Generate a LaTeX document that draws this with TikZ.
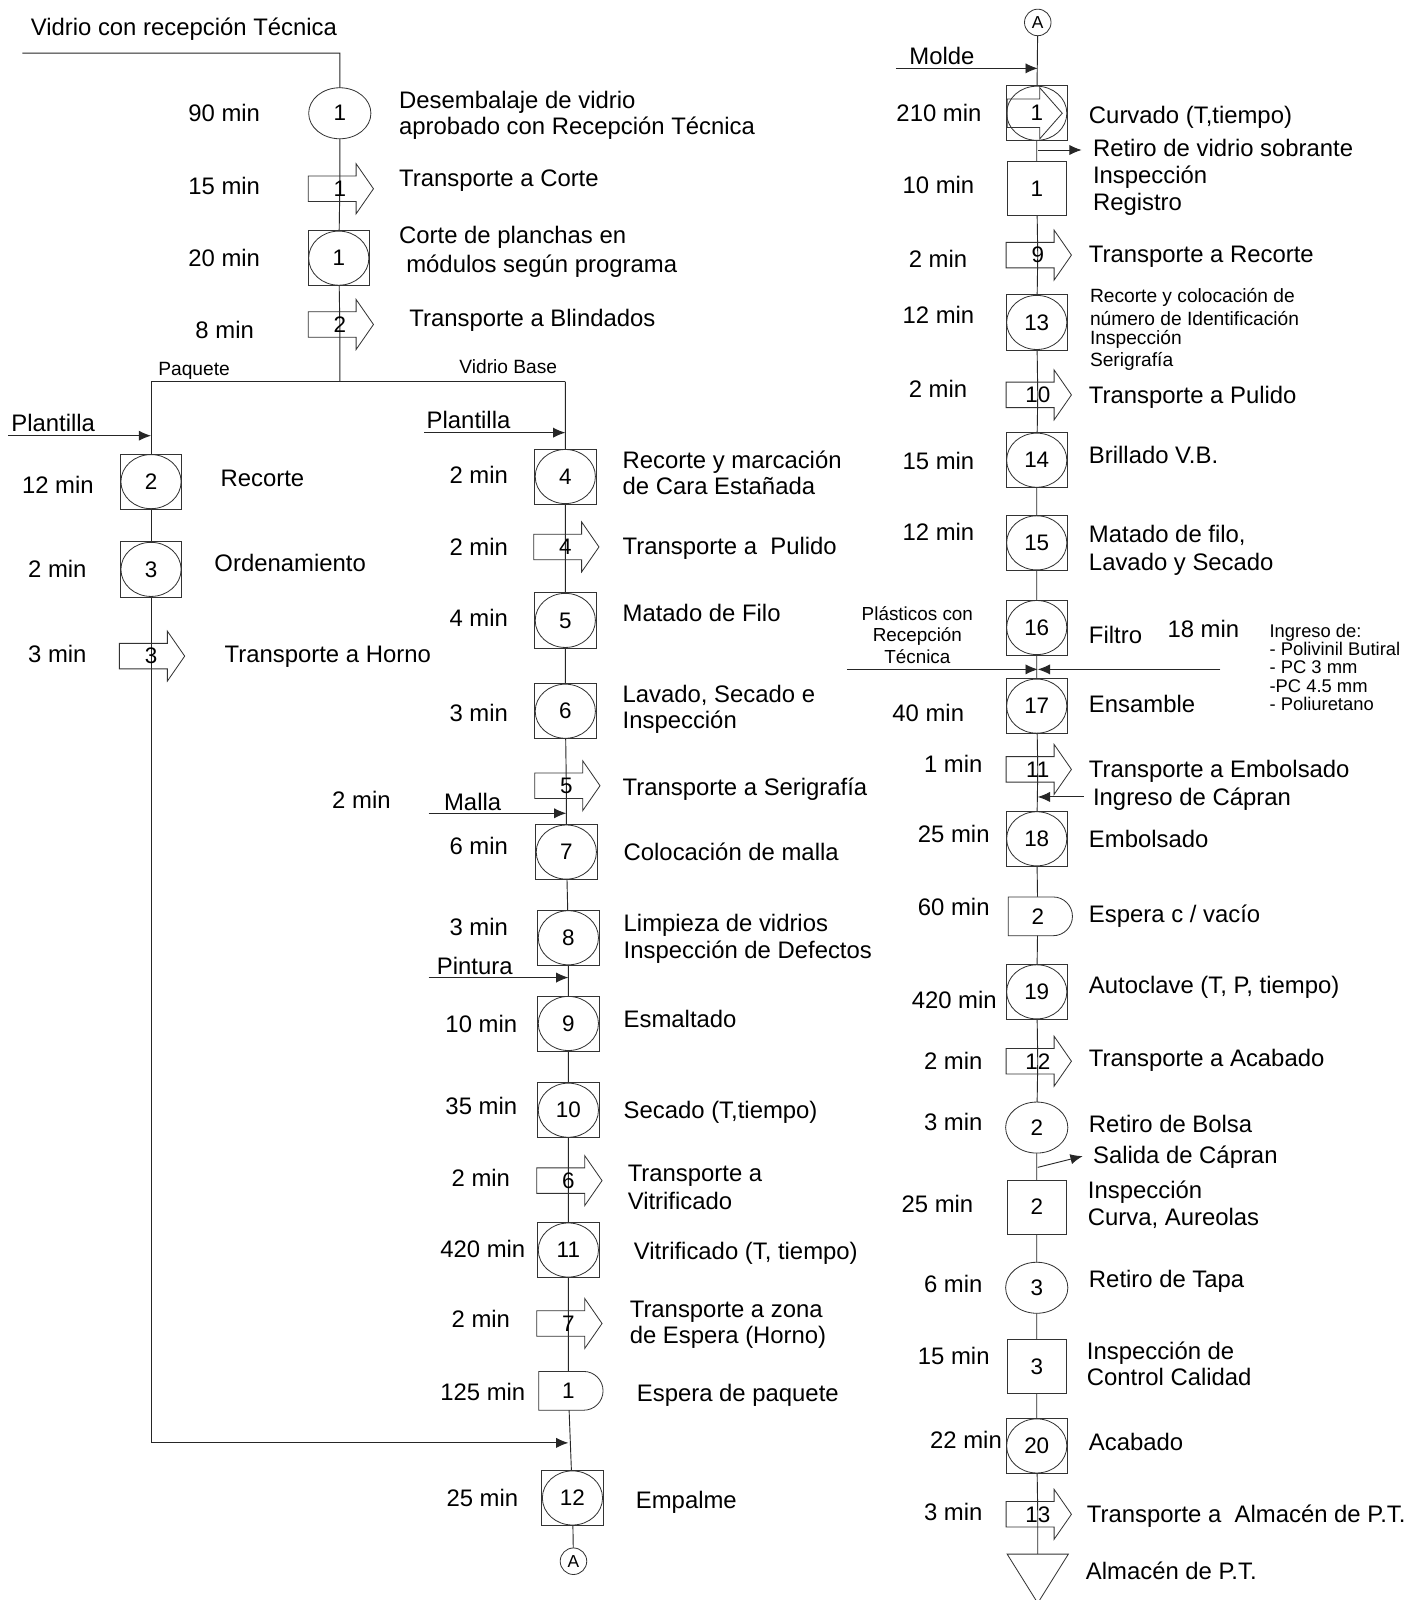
\documentclass[tikz,border=0pt]{standalone}
\usepackage{fontspec}
\setmainfont{Liberation Sans}
\usetikzlibrary{shapes.geometric,arrows.meta}
\pgfdeclarelayer{bg}
\pgfsetlayers{bg,main}
\tikzset{
  ln/.style={line width=0.9pt, draw=black!85},
  sym/.style={line width=0.8pt, draw=black!80},
  tip/.style={-{Latex[length=12pt,width=10pt]}},
  lw/.style={font=\fontsize{23.4pt}{26pt}\selectfont, inner sep=0pt, anchor=base west},
  le/.style={font=\fontsize{23.4pt}{26pt}\selectfont, inner sep=0pt, anchor=base east},
  sw/.style={font=\fontsize{18.8pt}{21pt}\selectfont, inner sep=0pt, anchor=base west},
  sc/.style={font=\fontsize{18.5pt}{21pt}\selectfont, inner sep=0pt, anchor=base},
  xs/.style={font=\fontsize{18pt}{20pt}\selectfont, inner sep=0pt, anchor=base west},
  numtxt/.style={font=\fontsize{22pt}{24pt}\selectfont, inner sep=0pt},
  osq/.style={rectangle, sym, fill=white, minimum width=60pt, minimum height=54pt, inner sep=0pt, numtxt,
     path picture={\draw[sym] (path picture bounding box.center) ellipse (29.5pt and 26.5pt);}},
  opr/.style={ellipse, sym, fill=white, minimum width=61pt, minimum height=50pt, inner sep=0pt, numtxt},
  insp/.style={rectangle, sym, fill=white, minimum width=58pt, minimum height=53pt, inner sep=0pt, numtxt},
  conn/.style={circle, sym, fill=white, minimum size=26pt, inner sep=0pt, font=\fontsize{17pt}{19pt}\selectfont},
}
\newcommand\trn[4]{%
  \draw[sym, shift={(#2,#3)}] (-31,-12.5) -- (16,-12.5) -- (16,-24.5) -- (33,0) -- (16,24.5) -- (16,12.5) -- (-31,12.5) -- cycle;
  \node[numtxt] (#1) at (#2,#3) {#4};}
\newcommand\dly[4]{%
  \draw[sym, fill=white, shift={(#2,#3)}] (-29,-19) -- (15,-19) arc[start angle=90, end angle=-90, radius=19pt] -- (-29,19) -- cycle;
  \node[numtxt] (#1) at (#2,#3) {#4};}
\begin{document}
\begin{tikzpicture}[x=1pt,y=-1pt]
\begin{pgfonlayer}{bg}
\fill[white] (0,0) rectangle (1393,1568);
\end{pgfonlayer}
\useasboundingbox (0,0) rectangle (1393,1568);

% ---------- top-left trunk ----------
\coordinate (v0) at (22,52);
\coordinate (v1) at (333,52);
\node[opr] (op1) at (333,111) {1};
\trn{tr1}{333}{185}{1}
\node[osq] (os1) at (332,253) {1};
\trn{tr2}{333}{318}{2}
\coordinate (j0) at (333,374);
\coordinate (jl) at (148,374);
\coordinate (jr) at (554,374);

% ---------- left column ----------
\node[osq] (os2) at (148,472) {2};
\node[osq] (os3) at (148,558) {3};
\trn{tr3}{148}{643}{3}
\coordinate (lb) at (148,1414);
\coordinate (pl0) at (8,427);
\coordinate (pl1) at (148,427);

% ---------- middle column ----------
\coordinate (pm0) at (416,424);
\coordinate (pm1) at (554,424);
\node[osq] (os4) at (554,467) {4};
\trn{tr4}{554}{536}{4}
\node[osq] (os5) at (554,608) {5};
\node[osq] (os6) at (554,697) {6};
\trn{tr5}{555}{770}{5}
\coordinate (ma0) at (420,797);
\coordinate (ma1) at (555,797);
\node[osq] (os7) at (555,835) {7};
\node[osq] (os8) at (557,919) {8};
\coordinate (pi0) at (420,958);
\coordinate (pi1) at (557,958);
\node[osq] (os9) at (557,1003) {9};
\node[osq] (os10) at (557,1088) {10};
\trn{tr6}{557}{1157}{6}
\node[osq] (os11) at (557,1225) {11};
\trn{tr7}{557}{1297}{7}
\dly{de1}{557}{1363}{1}
\coordinate (mj) at (557,1414);
\node[osq] (os12) at (561,1468) {12};
\node[conn] (A1) at (562,1530) {A};

% ---------- right column ----------
\node[conn] (A2) at (1017,22) {A};
\coordinate (mo0) at (878,67);
\coordinate (mo1) at (1017,67);
\node[osq] (cu) at (1016,111) {1};
\draw[sym, shift={(1016,111)}] (-29,-14) -- (3,-14) -- (3,-25) -- (25,0) -- (3,25) -- (3,14) -- (-29,14) -- cycle;
\coordinate (rv0) at (1017,147);
\coordinate (rv1) at (1060,147);
\node[insp] (in1) at (1016,185) {1};
\trn{tr9}{1017}{250}{9}
\node[osq] (os13) at (1016,316) {13};
\trn{tr10}{1017}{387}{10}
\node[osq] (os14) at (1016,451) {14};
\node[osq] (os15) at (1016,532) {15};
\node[osq] (os16) at (1016,615) {16};
\coordinate (bw0) at (830,656);
\coordinate (bw1) at (1017,656);
\coordinate (bw2) at (1196,656);
\node[osq] (os17) at (1016,692) {17};
\trn{tr11}{1017}{754}{11}
\coordinate (cp0) at (1062,781);
\coordinate (cp1) at (1017,781);
\node[osq] (os18) at (1016,822) {18};
\dly{de2}{1017}{898}{2}
\node[osq] (os19) at (1016,972) {19};
\trn{tr12}{1017}{1040}{12}
\node[opr] (op2) at (1016,1105) {2};
\coordinate (sc0) at (1017,1144);
\coordinate (sc1) at (1061,1133);
\node[insp] (in2) at (1016,1183) {2};
\node[opr] (op3) at (1016,1262) {3};
\node[insp] (in3) at (1016,1339) {3};
\node[osq] (os20) at (1016,1417) {20};
\trn{tr13}{1017}{1484}{13}
\coordinate (st) at (1017,1523);
\draw[sym, fill=white] (987,1523) -- (1047,1523) -- (1017,1571) -- cycle;

% ---------- flow lines (behind symbols) ----------
\begin{pgfonlayer}{bg}
\draw[ln] (v0) -- (v1) -- (op1.center) -- (tr1.center) -- (os1.center) -- (tr2.center) -- (j0);
\draw[ln] (jl) -- (jr);
\draw[ln] (jl) -- (os2.center) -- (os3.center) -- (tr3.center) -- (lb);
\draw[ln] (jr) -- (os4.center) -- (tr4.center) -- (os5.center) -- (os6.center) -- (tr5.center)
  -- (os7.center) -- (os8.center) -- (os9.center) -- (os10.center) -- (tr6.center) -- (os11.center)
  -- (tr7.center) -- (de1.center) -- (os12.center) -- (A1.center);
\draw[ln] (A2.center) -- (cu.center) -- (in1.center) -- (tr9.center) -- (os13.center) -- (tr10.center)
  -- (os14.center) -- (os15.center) -- (os16.center) -- (os17.center) -- (tr11.center) -- (os18.center)
  -- (de2.center) -- (os19.center) -- (tr12.center) -- (op2.center) -- (in2.center) -- (op3.center)
  -- (in3.center) -- (os20.center) -- (tr13.center) -- (st);
\end{pgfonlayer}

% ---------- side arrows ----------
\draw[ln, tip] (pl0) -- (pl1);
\draw[ln, tip] (pm0) -- (pm1);
\draw[ln, tip] (ma0) -- (ma1);
\draw[ln, tip] (pi0) -- (pi1);
\draw[ln, tip] (lb) -- (mj);
\draw[ln, tip] (mo0) -- (mo1);
\draw[ln, tip] (rv0) -- (rv1);
\draw[ln, tip] (bw0) -- (bw1);
\draw[ln, tip] (bw2) -- (bw1);
\draw[ln, tip] (cp0) -- (cp1);
\draw[ln, tip] (sc0) -- (sc1);

% ---------- texts: top-left ----------
\node[lw] (t0) at (30,35) {Vidrio con recepción Técnica};
\node[le] (t1) at (255,119) {90 min};
\node[lw] (t2) at (391,106) {Desembalaje de vidrio};
\node[lw] (t3) at (391,132) {aprobado con Recepción Técnica};
\node[le] (t4) at (255,191) {15 min};
\node[lw] (t5) at (391,183) {Transporte a Corte};
\node[le] (t6) at (255,261) {20 min};
\node[lw] (t7) at (391,239) {Corte de planchas en};
\node[lw] (t8) at (398,267) {módulos según programa};
\node[le] (t9) at (249,332) {8 min};
\node[lw] (t10) at (401,320) {Transporte a Blindados};
\node[sw] (t11) at (155,368) {Paquete};
\node[sw] (t12) at (450,366) {Vidrio Base};

% ---------- texts: left column ----------
\node[lw] (t13) at (11,423) {Plantilla};
\node[le] (t14) at (92,484) {12 min};
\node[lw] (t15) at (216,477) {Recorte};
\node[le] (t16) at (85,566) {2 min};
\node[lw] (t17) at (210,560) {Ordenamiento};
\node[le] (t18) at (85,649) {3 min};
\node[lw] (t19) at (220,649) {Transporte a Horno};

% ---------- texts: middle column ----------
\node[lw] (t20) at (418,420) {Plantilla};
\node[le] (t21) at (498,474) {2 min};
\node[lw] (t22) at (610,459) {Recorte y marcación};
\node[lw] (t23) at (610,485) {de Cara Estañada};
\node[le] (t24) at (498,544) {2 min};
\node[lw] (t25) at (610,543) {Transporte a\ \ Pulido};
\node[le] (t26) at (498,614) {4 min};
\node[lw] (t27) at (610,609) {Matado de Filo};
\node[le] (t28) at (498,707) {3 min};
\node[lw] (t29) at (610,688) {Lavado, Secado e};
\node[lw] (t30) at (610,714) {Inspección};
\node[le] (t31) at (383,792) {2 min};
\node[lw] (t32) at (610,780) {Transporte a Serigrafía};
\node[lw] (t33) at (435,794) {Malla};
\node[le] (t34) at (498,837) {6 min};
\node[lw] (t35) at (611,843) {Colocación de malla};
\node[le] (t36) at (498,917) {3 min};
\node[lw] (t37) at (611,913) {Limpieza de vidrios};
\node[lw] (t38) at (611,939) {Inspección de Defectos};
\node[lw] (t39) at (428,955) {Pintura};
\node[le] (t40) at (507,1012) {10 min};
\node[lw] (t41) at (611,1007) {Esmaltado};
\node[le] (t42) at (507,1092) {35 min};
\node[lw] (t43) at (611,1096) {Secado (T,tiempo)};
\node[le] (t44) at (500,1163) {2 min};
\node[lw] (t45) at (615,1158) {Transporte a};
\node[lw] (t46) at (615,1185) {Vitrificado};
\node[le] (t47) at (515,1232) {420 min};
\node[lw] (t48) at (621,1234) {Vitrificado (T, tiempo)};
\node[le] (t49) at (500,1301) {2 min};
\node[lw] (t50) at (617,1291) {Transporte a zona};
\node[lw] (t51) at (617,1317) {de Espera (Horno)};
\node[le] (t52) at (515,1372) {125 min};
\node[lw] (t53) at (624,1373) {Espera de paquete};
\node[le] (t54) at (508,1476) {25 min};
\node[lw] (t55) at (623,1478) {Empalme};

% ---------- texts: right column ----------
\node[lw] (t56) at (891,63) {Molde};
\node[le] (t57) at (962,119) {210 min};
\node[lw] (t58) at (1067,121) {Curvado (T,tiempo)};
\node[lw] (t59) at (1071,153) {Retiro de vidrio sobrante};
\node[le] (t60) at (955,190) {10 min};
\node[lw] (t61) at (1071,180) {Inspección};
\node[lw] (t62) at (1071,206) {Registro};
\node[le] (t63) at (948,262) {2 min};
\node[lw] (t64) at (1067,257) {Transporte a Recorte};
\node[le] (t65) at (955,317) {12 min};
\node[sw] (t66) at (1068,296) {Recorte y colocación de};
\node[sw] (t67) at (1068,319) {número de Identificación};
\node[sw] (t68) at (1068,338) {Inspección};
\node[sw] (t69) at (1068,359) {Serigrafía};
\node[le] (t70) at (948,390) {2 min};
\node[lw] (t71) at (1067,395) {Transporte a Pulido};
\node[le] (t72) at (955,460) {15 min};
\node[lw] (t73) at (1067,454) {Brillado V.B.};
\node[le] (t74) at (955,530) {12 min};
\node[lw] (t75) at (1067,532) {Matado de filo,};
\node[lw] (t76) at (1067,559) {Lavado y Secado};
\node[sc] (t77) at (899,608) {Plásticos con};
\node[sc] (t78) at (899,629) {Recepción};
\node[sc] (t79) at (899,650) {Técnica};
\node[lw] (t80) at (1067,631) {Filtro};
\node[lw] (t81) at (1144,625) {18 min};
\node[xs] (t82) at (1244,624.5) {Ingreso de:};
\node[xs] (t83) at (1244,642.5) {- Polivinil Butiral};
\node[xs] (t84) at (1244,660.5) {- PC 3 mm};
\node[xs] (t85) at (1244,678.5) {-PC 4.5 mm};
\node[xs] (t86) at (1244,696.5) {- Poliuretano};
\node[le] (t87) at (945,707) {40 min};
\node[lw] (t88) at (1067,698) {Ensamble};
\node[le] (t89) at (963,757) {1 min};
\node[lw] (t90) at (1067,762) {Transporte a Embolsado};
\node[lw] (t91) at (1071,789) {Ingreso de Cápran};
\node[le] (t92) at (970,826) {25 min};
\node[lw] (t93) at (1067,831) {Embolsado};
\node[le] (t94) at (970,897) {60 min};
\node[lw] (t95) at (1067,904) {Espera c / vacío};
\node[le] (t96) at (977,988) {420 min};
\node[lw] (t97) at (1067,974) {Autoclave (T, P, tiempo)};
\node[le] (t98) at (963,1048) {2 min};
\node[lw] (t99) at (1067,1045) {Transporte a Acabado};
\node[le] (t100) at (963,1108) {3 min};
\node[lw] (t101) at (1067,1110) {Retiro de Bolsa};
\node[lw] (t102) at (1071,1140) {Salida de Cápran};
\node[le] (t103) at (954,1188) {25 min};
\node[lw] (t104) at (1066,1175) {Inspección};
\node[lw] (t105) at (1066,1201) {Curva, Aureolas};
\node[le] (t106) at (963,1267) {6 min};
\node[lw] (t107) at (1067,1262) {Retiro de Tapa};
\node[le] (t108) at (970,1337) {15 min};
\node[lw] (t109) at (1065,1332) {Inspección de};
\node[lw] (t110) at (1065,1358) {Control Calidad};
\node[le] (t111) at (982,1420) {22 min};
\node[lw] (t112) at (1067,1421) {Acabado};
\node[le] (t113) at (963,1490) {3 min};
\node[lw] (t114) at (1065,1492) {Transporte a\ \ Almacén de P.T.};
\node[lw] (t115) at (1064,1548) {Almacén de P.T.};
\end{tikzpicture}
\end{document}
